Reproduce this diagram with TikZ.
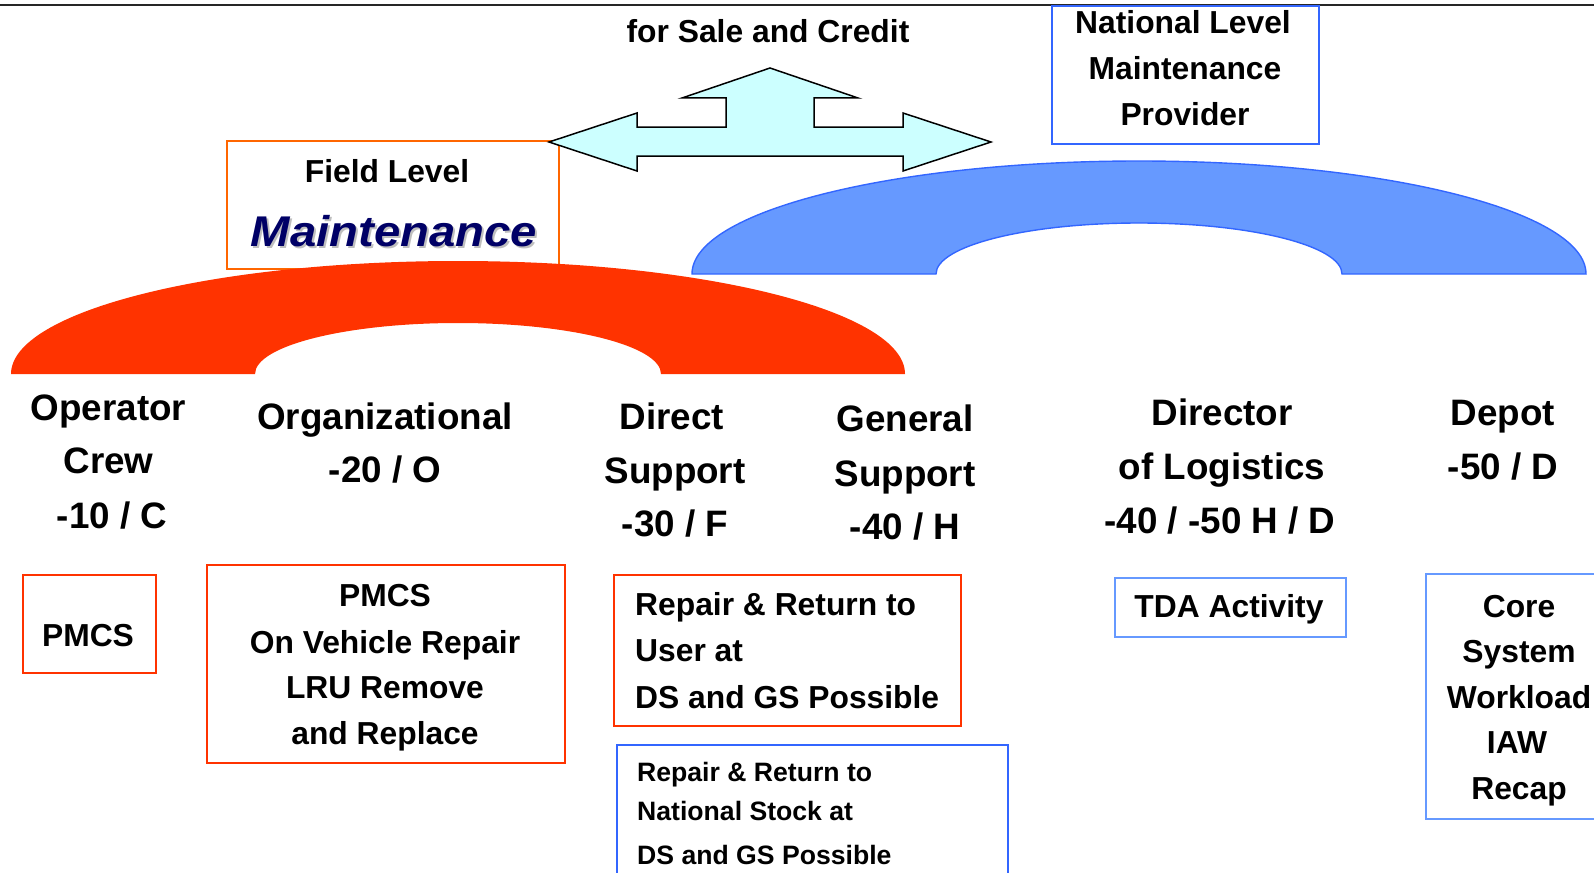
\documentclass[tikz,border=0pt]{standalone}
\usepackage{fontspec}
\setmainfont{Liberation Sans}
\definecolor{archred}{HTML}{FF3300}
\definecolor{archblue}{HTML}{6699FF}
\definecolor{edgeblue}{HTML}{3366FF}
\definecolor{lightedge}{HTML}{6699FF}
\definecolor{fieldorange}{HTML}{FF6600}
\definecolor{arrowcyan}{HTML}{CCFFFF}
\definecolor{navy}{HTML}{000066}
\tikzset{
  hd/.style={font=\fontsize{36.8}{40}\selectfont\bfseries, anchor=base, inner sep=0pt},
  bt/.style={font=\fontsize{31.8}{36}\selectfont\bfseries, anchor=base, inner sep=0pt},
  st/.style={font=\fontsize{26.6}{30}\selectfont\bfseries, anchor=base west, inner sep=0pt},
  redbox/.style={draw=archred, line width=2pt, inner sep=0pt, anchor=north west},
  bluebox/.style={draw=edgeblue, line width=2pt, inner sep=0pt, anchor=north west},
  paleblue/.style={draw=lightedge, line width=2pt, inner sep=0pt, anchor=north west},
  orangebox/.style={draw=fieldorange, line width=1.6pt, inner sep=0pt, anchor=north west},
  mtext/.style={font=\fontsize{43}{46}\selectfont\bfseries\itshape, anchor=base, inner sep=0pt, xscale=1.1},
}
\begin{document}
\begin{tikzpicture}[x=1pt,y=-1pt]
\useasboundingbox (0,0) rectangle (1594,872);
% top rule
\coordinate (tl) at (0,5);
\coordinate (tr) at (1594,5);
\draw[line width=1.6pt, black!85] (tl) -- (tr);
% national box
\node[bluebox, minimum width=267pt, minimum height=138pt] (natbox) at (1051,5) {};
\node[bt] (nat1) at (1183,34) {National Level};
\node[bt] (nat2) at (1185,80) {Maintenance};
\node[bt] (nat3) at (1185,125) {Provider};
% sale text
\node[bt] (sale) at (768,43) {for Sale and Credit};
% field box
\node[orangebox, minimum width=332pt, minimum height=128pt] (fieldbox) at (226,140) {};
\node[bt] (field) at (387,182) {Field Level};
\node[mtext, text=black!25] (maintsh) at (396,248.5) {Maintenance};
\node[mtext, text=navy] (maint) at (394,246.5) {Maintenance};
% arrow
\draw[line width=1.5pt, fill=arrowcyan, line join=miter] (770,68) -- (858,98) -- (814,98) -- (814,127) -- (903,127) -- (903,113) -- (991,142) -- (903,171) -- (903,156) -- (637,156) -- (637,171) -- (549,142) -- (637,113) -- (637,127) -- (726,127) -- (726,98) -- (682,98) -- cycle;
% blue arch
\draw[draw=edgeblue, line width=1.4pt, fill=archblue] (692,274) arc[start angle=180, end angle=0, x radius=447pt, y radius=113pt] -- (1342,274) arc[start angle=0, end angle=180, x radius=203pt, y radius=51pt] -- cycle;
% red arch
\fill[archred] (11,374) arc[start angle=180, end angle=0, x radius=447pt, y radius=113pt] -- (661,374) arc[start angle=0, end angle=180, x radius=203pt, y radius=51pt] -- cycle;
% column headings
\node[hd] (c1a) at (108.5,420) {Operator};
\node[hd] (c1b) at (108.5,473) {Crew};
\node[hd] (c1c) at (112,528) {-10 / C};
\node[hd] (c2a) at (385,429) {Organizational};
\node[hd] (c2b) at (385,482) {-20 / O};
\node[hd] (c3a) at (672,429) {Direct};
\node[hd] (c3b) at (675,483) {Support};
\node[hd] (c3c) at (675,536) {-30 / F};
\node[hd] (c4a) at (905,431) {General};
\node[hd] (c4b) at (905,486) {Support};
\node[hd] (c4c) at (905,539) {-40 / H};
\node[hd] (c5a) at (1222,425) {Director};
\node[hd] (c5b) at (1222,479) {of Logistics};
\node[hd] (c5c) at (1220,533) {-40 / -50 H / D};
\node[hd] (c6a) at (1503,425) {Depot};
\node[hd] (c6b) at (1503,479) {-50 / D};
% bottom boxes
\node[redbox, minimum width=133pt, minimum height=98pt] (b1) at (22,574) {};
\node[bt] (b1t) at (88,646) {PMCS};
\node[redbox, minimum width=358pt, minimum height=198pt] (b2) at (206,564) {};
\node[bt] (b2a) at (385,606) {PMCS};
\node[bt] (b2b) at (385,653) {On Vehicle Repair};
\node[bt] (b2c) at (385,698) {LRU Remove};
\node[bt] (b2d) at (385,744) {and Replace};
\node[redbox, minimum width=347pt, minimum height=151pt] (b3) at (613,574) {};
\node[bt, anchor=base west] (b3a) at (635,615) {Repair \& Return to};
\node[bt, anchor=base west] (b3b) at (635,661) {User at};
\node[bt, anchor=base west] (b3c) at (635,708) {DS and GS Possible};
\node[bluebox, minimum width=391pt, minimum height=140pt] (b4) at (616,744) {};
\node[st] (b4a) at (637,781) {Repair \& Return to};
\node[st] (b4b) at (637,820) {National Stock at};
\node[st] (b4c) at (637,864) {DS and GS Possible};
\node[paleblue, minimum width=231pt, minimum height=59pt] (b5) at (1114,577) {};
\node[bt] (b5t) at (1229,617) {TDA Activity};
\node[paleblue, minimum width=200pt, minimum height=245pt] (b6) at (1425,573) {};
\node[bt] (b6a) at (1519,617) {Core};
\node[bt] (b6b) at (1519,662) {System};
\node[bt] (b6c) at (1519,708) {Workload};
\node[bt] (b6d) at (1517,753) {IAW};
\node[bt] (b6e) at (1519,799) {Recap};
\end{tikzpicture}
\end{document}
